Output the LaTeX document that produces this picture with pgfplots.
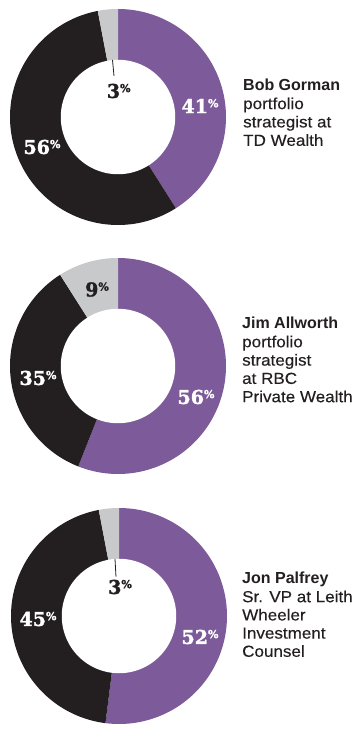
\documentclass[border=0pt]{standalone}
\usepackage{pgfplots}
\pgfplotsset{compat=1.18}
\usepackage{fontspec}
\setmainfont{Liberation Sans}
\newfontfamily\descfont[FakeStretch=1.065, FakeBold=0.25]{Liberation Sans}
\newfontfamily\pctfont[FakeBold=1.6]{DejaVu Serif Bold}
\definecolor{cPurple}{HTML}{7D5A9A}
\definecolor{cBlack}{HTML}{231F20}
\definecolor{cGray}{HTML}{C8C9CB}

% #1 x, #2 y (pt, from bottom), #3 purple %, #4 black %, #5 gray %
\newcommand{\donut}[5]{%
\pgfmathsetmacro\angA{90-3.6*#3}%
\pgfmathsetmacro\angB{90-3.6*(#3+#4)}%
\pgfmathsetmacro\angC{90-3.6*(#3+#4+#5)}%
\begin{axis}[at={(#1pt,#2pt)}, anchor=center, hide axis, scale only axis,
  width=216pt, height=216pt, xmin=-1, xmax=1, ymin=-1, ymax=1, clip=false]
\addplot[fill=cPurple, draw=none, domain=\angA:90, samples=120] ({cos(x)},{sin(x)}) -- (0,0) -- cycle;
\addplot[fill=cBlack, draw=none, domain=\angB:\angA, samples=120] ({cos(x)},{sin(x)}) -- (0,0) -- cycle;
\addplot[fill=cGray, draw=none, domain=\angC:\angB, samples=40] ({cos(x)},{sin(x)}) -- (0,0) -- cycle;
\addplot[fill=white, draw=none, domain=0:360, samples=150] ({0.53*cos(x)},{0.53*sin(x)}) -- cycle;
\end{axis}}

\newcommand{\pct}[1]{#1\raisebox{5.8pt}{\fontsize{11}{11}\selectfont\%}}
\tikzset{pctlab/.style={inner sep=0pt, font=\pctfont\fontsize{19}{19}\selectfont},
  namelab/.style={anchor=base west, inner sep=0pt, text=cBlack, font=\bfseries\fontsize{16}{18}\selectfont},
  desclab/.style={anchor=base west, inner sep=0pt, text=cBlack, font=\descfont\fontsize{16}{18}\selectfont}}

\begin{document}
\begin{tikzpicture}
\path[use as bounding box, fill=white] (0pt,0pt) rectangle (358pt,732pt);

% Chart 1: Bob Gorman
\donut{118}{615}{41}{56}{3}
\begin{axis}[at={(118pt,615pt)}, anchor=center, hide axis, scale only axis,
  width=216pt, height=216pt, xmin=-1, xmax=1, ymin=-1, ymax=1, clip=false]
\addplot[cBlack, line width=0.8pt] coordinates {(-0.051,0.528) (-0.037,0.38)};
\end{axis}
\node[pctlab, text=cBlack] at (118.7pt,641pt) {\pct{3}};
\node[pctlab, text=white] at (200pt,626pt) {\pct{41}};
\node[pctlab, text=white] at (42pt,585pt) {\pct{56}};
\node[namelab] at (243pt,641.3pt) {Bob Gorman};
\node[desclab] at (243pt,622.9pt) {portfolio};
\node[desclab] at (243pt,604.6pt) {strategist at};
\node[desclab] at (243pt,586.2pt) {TD Wealth};

% Chart 2: Jim Allworth
\donut{118}{366}{56}{35}{9}
\node[pctlab, text=cBlack] at (97pt,442.5pt) {\pct{9}};
\node[pctlab, text=white] at (38pt,354pt) {\pct{35}};
\node[pctlab, text=white] at (196pt,335pt) {\pct{56}};
\node[namelab] at (242pt,403pt) {Jim Allworth};
\node[desclab] at (242pt,384.7pt) {portfolio};
\node[desclab] at (242pt,366.4pt) {strategist};
\node[desclab] at (242pt,348.1pt) {at RBC};
\node[desclab] at (242pt,329.8pt) {Private Wealth};

% Chart 3: Jon Palfrey
\donut{119}{116}{52}{45}{3}
\begin{axis}[at={(119pt,116pt)}, anchor=center, hide axis, scale only axis,
  width=216pt, height=216pt, xmin=-1, xmax=1, ymin=-1, ymax=1, clip=false]
\addplot[cBlack, line width=0.8pt] coordinates {(-0.037,0.528) (-0.028,0.364)};
\end{axis}
\node[pctlab, text=cBlack] at (120pt,145pt) {\pct{3}};
\node[pctlab, text=white] at (38pt,113pt) {\pct{45}};
\node[pctlab, text=white] at (200pt,95pt) {\pct{52}};
\node[namelab] at (242pt,148pt) {Jon Palfrey};
\node[desclab] at (242pt,129.8pt) {Sr. VP at Leith};
\node[desclab] at (242pt,111.6pt) {Wheeler};
\node[desclab] at (242pt,93.4pt) {Investment};
\node[desclab] at (242pt,75.2pt) {Counsel};
\end{tikzpicture}
\end{document}
